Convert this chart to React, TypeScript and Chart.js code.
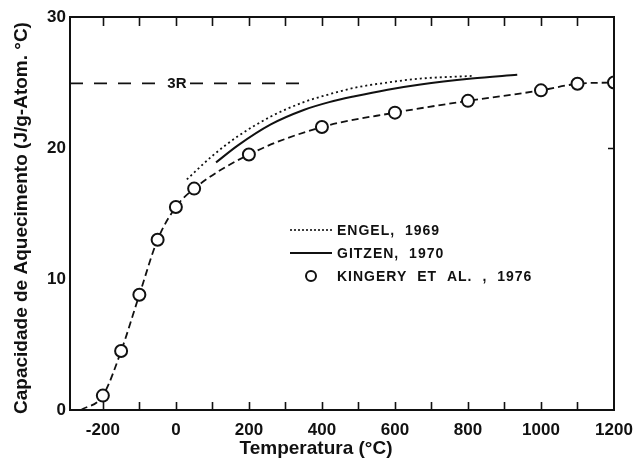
import { useEffect, useRef } from "react";
import { Chart, registerables } from "chart.js";

Chart.register(...registerables);

// Kingery et al. (1976): measured heat capacity points (°C, J/g-atom·°C)
const kingeryT = [-200, -150, -100, -50, 0, 50, 200, 400, 600, 800, 1000, 1100, 1200];
const kingeryCp = [1.1, 4.5, 8.8, 13.0, 15.5, 16.9, 19.5, 21.6, 22.7, 23.6, 24.4, 24.9, 25.0];
// the fitted curve through those points starts from zero near absolute zero
const kingeryCurveStartT = -260;
const kingeryCurveStartCp = 0;

// Engel (1969)
const engelT = [30, 100, 170, 260, 350, 420, 490, 580, 670, 810];
const engelCp = [17.6, 19.4, 20.9, 22.4, 23.5, 24.1, 24.6, 25.0, 25.3, 25.5];

// Gitzen (1970)
const gitzenT = [110, 170, 260, 350, 420, 490, 580, 670, 810, 935];
const gitzenCp = [18.9, 20.2, 21.8, 22.9, 23.5, 23.95, 24.45, 24.85, 25.3, 25.6];

// Dulong–Petit limit, 3R
const threeR = 24.94;
const threeRSpanT = [-290, 355];

// axes
const xMin = -290;
const xMax = 1200;
const xTickLabels = [-200, 0, 200, 400, 600, 800, 1000, 1200];
const xMinorTicks = [-200, -100, 0, 100, 200, 300, 400, 500, 600, 700, 800, 900, 1000, 1100];
const yTickLabels = [0, 10, 20, 30];
const yRightTicks = [20];

const xTitle = "Temperatura (°C)";
const yTitle = "Capacidade de Aquecimento (J/g-Atom. °C)";
const legendEngel = "ENGEL, 1969";
const legendGitzen = "GITZEN, 1970";
const legendKingery = "KINGERY ET AL. , 1976";
const threeRLabel = "3R";

const INK = "#111111";
const FONT = "'Liberation Sans', Arial, Helvetica, sans-serif";

const pts = (xs: number[], ys: number[]) => xs.map((x, i) => ({ x, y: ys[i] }));

// frame, inward ticks, titles, the 3R tag and the in-plot legend
const decorations = {
  id: "decorations",
  afterDraw(chart: any) {
    const { ctx, chartArea: a, scales } = chart;
    const xs = scales.x;
    const ys = scales.y;
    ctx.save();
    ctx.strokeStyle = INK;
    ctx.fillStyle = INK;

    // frame
    ctx.lineWidth = 2;
    ctx.strokeRect(a.left, a.top, a.right - a.left, a.bottom - a.top);

    // inward ticks on top and bottom edges
    ctx.lineWidth = 1.6;
    ctx.beginPath();
    for (const v of xMinorTicks) {
      const px = Math.round(xs.getPixelForValue(v)) + 0.5;
      ctx.moveTo(px, a.bottom);
      ctx.lineTo(px, a.bottom - 8);
      ctx.moveTo(px, a.top);
      ctx.lineTo(px, a.top + 9);
    }
    for (const v of yRightTicks) {
      const py = Math.round(ys.getPixelForValue(v)) + 0.5;
      ctx.moveTo(a.right, py);
      ctx.lineTo(a.right - 6, py);
    }
    ctx.stroke();

    // 3R tag sitting in a gap of the dashed line
    const tx = xs.getPixelForValue(0) + 1;
    const ty = ys.getPixelForValue(threeR);
    ctx.font = `bold 15px ${FONT}`;
    ctx.textAlign = "center";
    ctx.textBaseline = "middle";
    const tw = ctx.measureText(threeRLabel).width;
    ctx.fillStyle = "#ffffff";
    ctx.fillRect(tx - tw / 2 - 3, ty - 8, tw + 6, 16);
    ctx.fillStyle = INK;
    ctx.fillText(threeRLabel, tx, ty + 1);

    // axis titles
    ctx.font = `bold 19px ${FONT}`;
    ctx.fillText(xTitle, 316, 449);
    ctx.save();
    ctx.translate(22, 218);
    ctx.rotate(-Math.PI / 2);
    ctx.fillText(yTitle, 0, 0);
    ctx.restore();

    // legend
    const lx0 = 290;
    const lx1 = 332;
    const textX = 337;
    const rows = [230, 253, 276];
    ctx.lineWidth = 1.6;
    ctx.setLineDash([2, 2]);
    ctx.beginPath();
    ctx.moveTo(lx0, rows[0]);
    ctx.lineTo(lx1, rows[0]);
    ctx.stroke();
    ctx.setLineDash([]);
    ctx.lineWidth = 2;
    ctx.beginPath();
    ctx.moveTo(lx0, rows[1]);
    ctx.lineTo(lx1, rows[1]);
    ctx.stroke();
    ctx.beginPath();
    ctx.arc(311, rows[2], 5, 0, Math.PI * 2);
    ctx.stroke();

    ctx.font = `bold 14px ${FONT}`;
    ctx.textAlign = "left";
    (ctx as any).letterSpacing = "1px";
    (ctx as any).wordSpacing = "5px";
    ctx.fillText(legendEngel, textX, rows[0] + 1);
    ctx.fillText(legendGitzen, textX, rows[1] + 1);
    ctx.fillText(legendKingery, textX, rows[2] + 1);
    ctx.restore();
  },
};

export default function App() {
  const canvasRef = useRef<HTMLCanvasElement | null>(null);

  useEffect(() => {
    const canvas = canvasRef.current;
    if (!canvas) return;

    const chart = new Chart(canvas, {
      type: "line",
      data: {
        datasets: [
          {
            label: legendKingery,
            data: pts(kingeryT, kingeryCp),
            showLine: false,
            pointRadius: 6,
            pointBorderWidth: 2,
            pointBackgroundColor: "#ffffff",
            pointBorderColor: INK,
          },
          {
            label: "Kingery curve",
            data: [{ x: kingeryCurveStartT, y: kingeryCurveStartCp }, ...pts(kingeryT, kingeryCp)],
            borderColor: INK,
            borderWidth: 1.8,
            borderDash: [7, 4],
            pointRadius: 0,
            cubicInterpolationMode: "monotone",
          },
          {
            label: legendGitzen,
            data: pts(gitzenT, gitzenCp),
            borderColor: INK,
            borderWidth: 2,
            pointRadius: 0,
            cubicInterpolationMode: "monotone",
          },
          {
            label: legendEngel,
            data: pts(engelT, engelCp),
            borderColor: INK,
            borderWidth: 1.8,
            borderDash: [2, 3],
            pointRadius: 0,
            cubicInterpolationMode: "monotone",
          },
          {
            label: threeRLabel,
            data: threeRSpanT.map((x) => ({ x, y: threeR })),
            borderColor: INK,
            borderWidth: 1.8,
            borderDash: [13, 11],
            pointRadius: 0,
          },
        ],
      },
      options: {
        animation: false,
        responsive: true,
        maintainAspectRatio: false,
        layout: { padding: { left: 0, top: 17, right: 22, bottom: 0 } },
        plugins: {
          legend: { display: false },
          tooltip: { enabled: false },
        },
        scales: {
          x: {
            type: "linear",
            min: xMin,
            max: xMax,
            grid: { display: false, drawTicks: false },
            border: { display: false },
            afterBuildTicks: (s: any) => {
              s.ticks = xTickLabels.map((value) => ({ value }));
            },
            afterFit: (s: any) => {
              s.height = 52;
              s.paddingLeft = 0;
              s.paddingRight = 0;
            },
            ticks: {
              padding: 10,
              maxRotation: 0,
              autoSkip: false,
              color: INK,
              font: { family: FONT, size: 17, weight: "bold" },
              callback: (v: any) => String(v),
            },
          },
          y: {
            type: "linear",
            min: 0,
            max: 30,
            grid: { display: false, drawTicks: false },
            border: { display: false },
            afterBuildTicks: (s: any) => {
              s.ticks = yTickLabels.map((value) => ({ value }));
            },
            afterFit: (s: any) => {
              s.width = 70;
              s.paddingTop = 0;
              s.paddingBottom = 0;
            },
            ticks: {
              padding: 4,
              autoSkip: false,
              color: INK,
              font: { family: FONT, size: 17, weight: "bold" },
              callback: (v: any) => String(v),
            },
          },
        },
      },
      plugins: [decorations],
    } as any);

    return () => chart.destroy();
  }, []);

  return (
    <div style={{ position: "fixed", left: 0, top: 0, width: 636, height: 462, background: "#ffffff" }}>
      <canvas ref={canvasRef} />
    </div>
  );
}
